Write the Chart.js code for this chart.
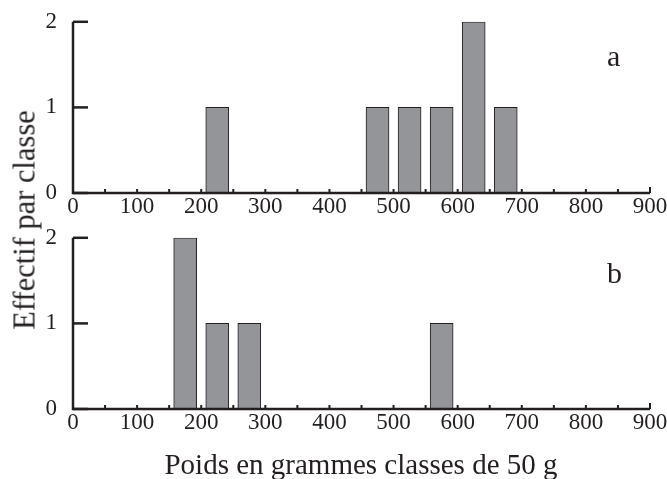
<!DOCTYPE html>
<html>
<head>
<meta charset="utf-8">
<script src="https://cdn.jsdelivr.net/npm/chart.js@4/dist/chart.umd.min.js"></script>
<style>
  body { margin: 0; background: #fff; }
  #wrap { position: relative; width: 667px; height: 479px; font-family: 'Liberation Serif', serif; color: #231f20; }
  canvas { position: absolute; left: 0; }
  .txt { position: absolute; white-space: nowrap; }
</style>
</head>
<body>
<div id="wrap">
  <canvas id="chartA" width="667" height="240" style="top:0"></canvas>
  <canvas id="chartB" width="667" height="240" style="top:216px"></canvas>
  <div class="txt" style="left:607px; top:39px; font-size:30px;">a</div>
  <div class="txt" style="left:607px; top:256px; font-size:30px;">b</div>
  <div class="txt" style="left:25px; top:220px; font-size:30.5px; transform: translate(-50%, -50%) rotate(-90deg);">Effectif par classe</div>
  <div class="txt" style="left:361px; top:464px; font-size:29px; transform: translate(-50%, -50%);">Poids en grammes classes de 50 g</div>
</div>
<script>
// bin centres of the 50 g classes
const classes = [25, 75, 125, 175, 225, 275, 325, 375, 425, 475, 525, 575, 625, 675, 725, 775, 825, 875];
const countsA = [0, 0, 0, 0, 1, 0, 0, 0, 0, 1, 1, 1, 2, 1, 0, 0, 0, 0];
const countsB = [0, 0, 0, 2, 1, 1, 0, 0, 0, 0, 0, 1, 0, 0, 0, 0, 0, 0];
const xTicks = [0, 100, 200, 300, 400, 500, 600, 700, 800, 900];
const yTicks = [0, 1, 2];

const ink = '#231f20';
Chart.defaults.font.family = "'Liberation Serif', serif";
Chart.defaults.font.size = 23;
Chart.defaults.color = ink;

// axes with inward ticks, drawn on top of the bars
const axesPlugin = {
  id: 'axes',
  afterDraw(chart) {
    const { ctx, chartArea: a, scales } = chart;
    ctx.save();
    ctx.strokeStyle = ink;
    ctx.lineWidth = 2.5;
    ctx.beginPath();
    ctx.moveTo(a.left, a.top);
    ctx.lineTo(a.left, a.bottom);
    ctx.lineTo(a.right, a.bottom);
    ctx.stroke();
    yTicks.forEach(v => {
      const y = scales.y.getPixelForValue(v);
      ctx.beginPath();
      ctx.moveTo(a.left, y);
      ctx.lineTo(a.left + 15, y);
      ctx.stroke();
    });
    ctx.lineWidth = 2;
    for (let v = 50; v <= 900; v += 50) {
      const x = scales.x.getPixelForValue(v);
      ctx.beginPath();
      ctx.moveTo(x, a.bottom);
      ctx.lineTo(x, a.bottom - (v === 900 ? 6 : 4));
      ctx.stroke();
    }
    ctx.restore();
  }
};

function makeChart(id, counts) {
  const ctx = document.getElementById(id).getContext('2d');
  return new Chart(ctx, {
    type: 'bar',
    data: {
      datasets: [{
        data: classes.map((c, i) => ({ x: c, y: counts[i] })),
        backgroundColor: '#939598',
        borderColor: ink,
        borderWidth: 1,
        borderSkipped: 'bottom',
        barThickness: 23
      }]
    },
    options: {
      responsive: false,
      animation: false,
      layout: { padding: { top: 19, right: 17, left: 0, bottom: 0 } },
      plugins: { legend: { display: false }, tooltip: { enabled: false } },
      scales: {
        x: {
          type: 'linear',
          offset: false,
          min: 0,
          max: 900,
          afterBuildTicks: s => { s.ticks = xTicks.map(v => ({ value: v })); },
          afterFit: s => { s.height = 47; },
          ticks: { padding: -8, maxRotation: 0, autoSkip: false },
          grid: { display: false },
          border: { display: false }
        },
        y: {
          min: 0,
          max: 2,
          afterBuildTicks: s => { s.ticks = yTicks.map(v => ({ value: v })); },
          afterFit: s => { s.width = 73; },
          ticks: { padding: 8 },
          grid: { display: false },
          border: { display: false }
        }
      }
    },
    plugins: [axesPlugin]
  });
}

makeChart('chartA', countsA);
makeChart('chartB', countsB);
</script>
</body>
</html>
